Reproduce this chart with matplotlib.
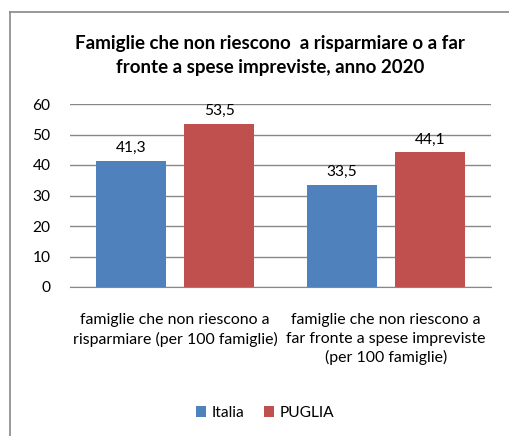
import matplotlib
matplotlib.use("Agg")
import matplotlib.pyplot as plt
import numpy as np
from matplotlib.lines import Line2D

plt.rcParams['font.family'] = ['Lato', 'DejaVu Sans']

categories = ["famiglie che non riescono a\nrisparmiare (per 100 famiglie)",
              "famiglie che non riescono a\nfar fronte a spese impreviste\n(per 100 famiglie)"]
series_names = ["Italia", "PUGLIA"]
italia = [41.3, 33.5]
puglia = [53.5, 44.1]
title = "Famiglie che non riescono  a risparmiare o a far\nfronte a spese impreviste, anno 2020"
yticks = [0, 10, 20, 30, 40, 50, 60]

colors = ["#4F81BD", "#C0504D"]

fig = plt.figure(figsize=(5.10, 4.36), dpi=100)
ax = fig.add_axes([70/510, 1-287/436, (491-70)/510, (287-104)/436])

x = np.arange(len(categories))
w = 0.333
off = 0.209
for vals, o, c, name in [(italia, -off, colors[0], series_names[0]), (puglia, off, colors[1], series_names[1])]:
    bars = ax.bar(x + o, vals, width=w, color=c, label=name, zorder=3)
    for b, v in zip(bars, vals):
        ax.text(b.get_x() + b.get_width()/2, v + 2.0, f"{v:.1f}".replace(".", ","),
                ha="center", va="bottom", fontsize=11.2, color="#000000")

ax.set_xlim(-0.5, 1.5)
ax.set_ylim(0, 60)
ax.set_yticks(yticks)
ax.set_yticklabels([str(t) for t in yticks], fontsize=11.2)
ax.yaxis.grid(True, color="#888888", linewidth=1, zorder=0)
ax.set_axisbelow(True)
for s in ["top", "right", "left"]:
    ax.spines[s].set_visible(False)
ax.spines["bottom"].set_color("#888888")
ax.tick_params(axis="y", length=0, pad=14)
ax.tick_params(axis="x", length=0, pad=19)
ax.set_xticks(x)
ax.set_xticklabels(categories, fontsize=11.4, linespacing=1.38)

fig.text(270/510, 1-56/436, title, ha="center", va="center", fontsize=13.5,
         fontweight="bold", linespacing=1.5)

leg = fig.legend(loc="center", bbox_to_anchor=(265/510, 1-413/436), ncol=2, frameon=False,
                 fontsize=11.2, handlelength=0.65, handleheight=0.65, handletextpad=0.35,
                 columnspacing=1.3)

# chart border (partially visible)
fig.add_artist(Line2D([10/510, 10/510], [0, 1-12/436], color="#888888", linewidth=1.2, transform=fig.transFigure))
fig.add_artist(Line2D([10/510, 1], [1-12/436, 1-12/436], color="#888888", linewidth=1.2, transform=fig.transFigure))

fig.savefig("out.png", dpi=100)
